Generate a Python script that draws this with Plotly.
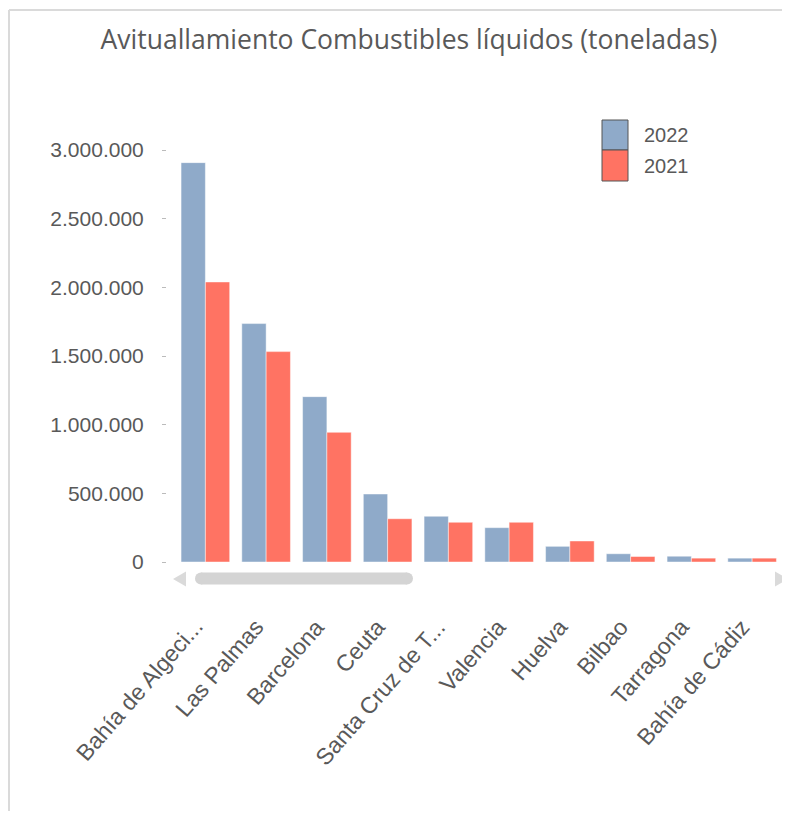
import plotly.graph_objects as go

OFF = 8  # page body margin offset
W, H = 790 - OFF, 819 - 2 * OFF

# ---- data ----
categories = ["Bahía de Algeciras", "Las Palmas", "Barcelona", "Ceuta",
              "Santa Cruz de Tenerife", "Valencia", "Huelva", "Bilbao",
              "Tarragona", "Bahía de Cádiz"]
tick_labels = ["Bahía de Algeci...", "Las Palmas", "Barcelona", "Ceuta",
               "Santa Cruz de T...", "Valencia", "Huelva", "Bilbao",
               "Tarragona", "Bahía de Cádiz"]
values_2022 = [2908000, 1736000, 1204000, 495000, 333000, 250000, 114000, 60000, 42000, 28000]
values_2021 = [2039000, 1532000, 944000, 315000, 289000, 289000, 153000, 40000, 28000, 28000]
y_ticks = [0, 500000, 1000000, 1500000, 2000000, 2500000, 3000000]
series_names = ["2022", "2021"]

BLUE = "#8FAAC9"
RED = "#FF7363"
TXT = "#595959"
FONT = "Liberation Sans, Arial, sans-serif"


def px(x):
    return (x - OFF) / W


def py(y):
    return 1 - (y - OFF) / H


fig = go.Figure()
fig.add_trace(go.Bar(x=categories, y=values_2022, name=series_names[0],
                     marker=dict(color=BLUE, line=dict(color="rgba(255,255,255,0.45)", width=1))))
fig.add_trace(go.Bar(x=categories, y=values_2021, name=series_names[1],
                     marker=dict(color=RED, line=dict(color="rgba(255,255,255,0.45)", width=1))))

shapes = []
# chart frame (top & left edges)
shapes.append(dict(type="line", xref="paper", yref="paper", x0=px(9), x1=1, y0=py(10), y1=py(10),
                   line=dict(color="#DADADA", width=2)))
shapes.append(dict(type="line", xref="paper", yref="paper", x0=px(9), x1=px(9), y0=py(10), y1=0,
                   line=dict(color="#DADADA", width=2)))
# scrollbar
SB = "#D4D4D4"
shapes.append(dict(type="rect", xref="paper", yref="paper", x0=px(201), x1=px(407),
                   y0=py(584.5), y1=py(572.5), fillcolor=SB, line=dict(width=0)))
for cx in (201, 407):
    shapes.append(dict(type="circle", xref="paper", yref="paper", x0=px(cx - 6), x1=px(cx + 6),
                       y0=py(584.5), y1=py(572.5), fillcolor=SB, line=dict(width=0)))
shapes.append(dict(type="path", xref="paper", yref="paper",
                   path=f"M {px(186)},{py(571.5)} L {px(173)},{py(579)} L {px(186)},{py(586.5)} Z",
                   fillcolor="#DADADA", line=dict(width=0)))
shapes.append(dict(type="path", xref="paper", yref="paper",
                   path=f"M {px(775)},{py(571.5)} L {px(788)},{py(579)} L {px(775)},{py(586.5)} Z",
                   fillcolor="#DADADA", line=dict(width=0)))
# custom legend swatches
shapes.append(dict(type="rect", xref="paper", yref="paper", x0=px(602), x1=px(628),
                   y0=py(150), y1=py(120), fillcolor=BLUE, line=dict(color="#555555", width=1)))
shapes.append(dict(type="rect", xref="paper", yref="paper", x0=px(602), x1=px(628),
                   y0=py(181), y1=py(150), fillcolor=RED, line=dict(color="#555555", width=1)))

annotations = [
    dict(text=series_names[0], xref="paper", yref="paper", x=px(642), y=py(135),
         xanchor="left", yanchor="middle", showarrow=False, font=dict(size=20, color=TXT, family=FONT)),
    dict(text=series_names[1], xref="paper", yref="paper", x=px(642), y=py(166),
         xanchor="left", yanchor="middle", showarrow=False, font=dict(size=20, color=TXT, family=FONT)),
]
# rotated category labels
for cat, lab in zip(categories, tick_labels):
    annotations.append(dict(text=lab, xref="x", yref="paper", x=cat, y=py(611),
                            xanchor="right", yanchor="top", textangle=-49, showarrow=False,
                            xshift=5, font=dict(size=23, color=TXT, family=FONT)))

fig.update_layout(
    width=W, height=H,
    margin=dict(l=0, r=0, t=0, b=0),
    paper_bgcolor="white", plot_bgcolor="white",
    separators=",.",
    showlegend=False,
    barmode="group", bargap=0.2, bargroupgap=0,
    title=dict(text="Avituallamiento Combustibles líquidos (toneladas)",
               x=px(409), xanchor="center", xref="paper",
               y=py(40), yanchor="middle", yref="paper",
               font=dict(family="Open Sans, sans-serif", size=26.5, color=TXT)),
    xaxis=dict(domain=[px(175), px(782.5)], anchor="y", range=[-0.5, len(categories) - 0.5],
               autorange=False, showticklabels=False,
               showline=False, showgrid=False, ticks="",
               automargin=False),
    yaxis=dict(domain=[py(562), py(150)], range=[0, 3000000], autorange=False,
               anchor="free", position=px(166),
               tickmode="array", tickvals=y_ticks, tickformat=",d",
               tickfont=dict(family=FONT, size=21, color=TXT),
               showgrid=False, zeroline=False, showline=False,
               ticks="outside", ticklen=4, tickcolor="#BBBBBB", tickwidth=1,
               ticklabelstandoff=14, automargin=False),
    shapes=shapes,
    annotations=annotations,
)

fig.write_html("out.html")
